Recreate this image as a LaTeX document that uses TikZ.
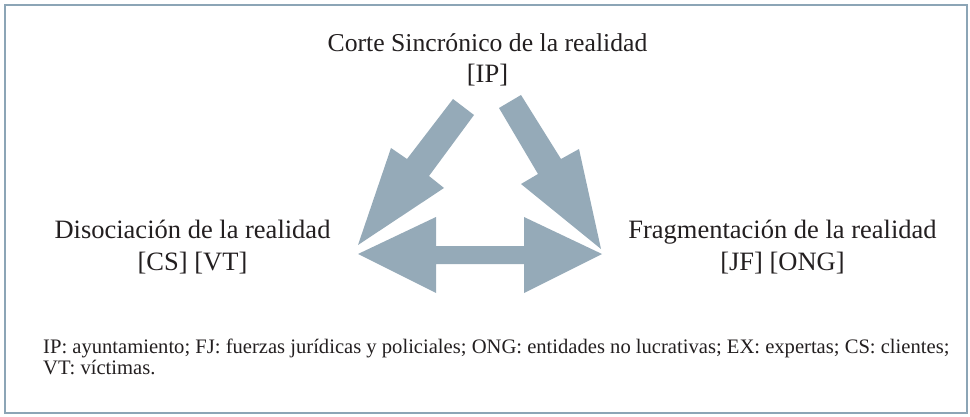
\documentclass[tikz,border=0pt]{standalone}
\usepackage{fontspec}
\setmainfont{Liberation Serif}
\definecolor{arrowc}{HTML}{95AAB8}
\definecolor{framec}{HTML}{8CA5B6}
\definecolor{textc}{HTML}{231F20}
\begin{document}
\begin{tikzpicture}[x=1pt,y=-1pt,
  big/.style={font=\fontsize{26.5}{31}\selectfont, text=textc, inner sep=0pt, anchor=base},
  small/.style={font=\fontsize{20.6}{20}\selectfont, text=textc, inner sep=0pt, anchor=base west},
  blk/.style={fill=arrowc, draw=none}]
\useasboundingbox (0,0) rectangle (970,417);
\draw[framec, line width=1.2pt] (5,5) rectangle (967,413);
% labels
\node[big, font=\fontsize{25.7}{31}\selectfont] (top1) at (487.5,52) {Corte Sincrónico de la realidad};
\node[big] (top2) at (487.5,83) {[IP]};
\node[big] (left1) at (192.5,238) {Disociación de la realidad};
\node[big] (left2) at (192.5,270) {[CS] [VT]};
\node[big] (right1) at (782.5,238) {Fragmentación de la realidad};
\node[big] (right2) at (782.5,270) {[JF] [ONG]};
% block arrows
\fill[blk] (453,99) -- (474,115) -- (429,176) -- (444,188) -- (358,245) -- (391,148) -- (407,159) -- cycle;
\fill[blk] (521,95) -- (499,108) -- (538,174) -- (521,184) -- (601,249) -- (579,149) -- (561,159) -- cycle;
\fill[blk] (358,254) -- (436,217) -- (436,246) -- (524,246) -- (524,217) -- (602,254) -- (524,293) -- (524,264) -- (436,264) -- (436,293) -- cycle;
% footnote
\node[small] (note1) at (43,353) {IP: ayuntamiento; FJ: fuerzas jurídicas y policiales; ONG: entidades no lucrativas; EX: expertas; CS: clientes;};
\node[small] (note2) at (43,374) {VT: víctimas.};
\end{tikzpicture}
\end{document}
